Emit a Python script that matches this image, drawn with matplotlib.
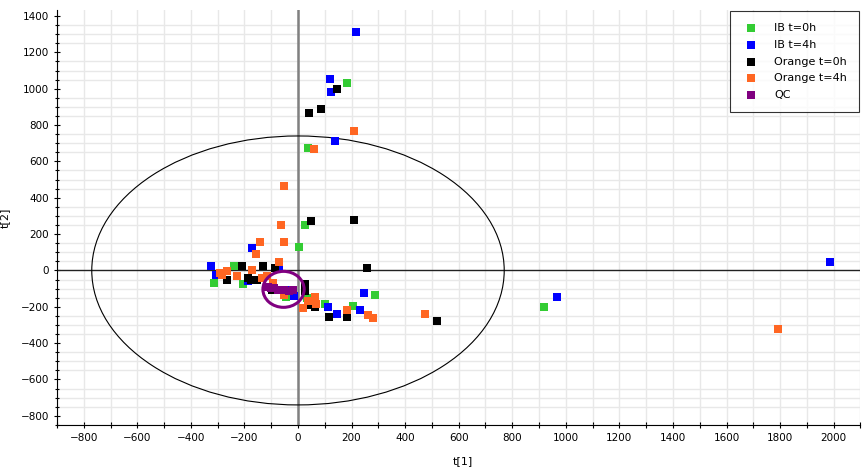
import numpy as np
import matplotlib.pyplot as plt
from matplotlib.patches import Ellipse
from matplotlib.ticker import MultipleLocator

# score values t[1], t[2] per group
ib0_t1 = [183, 37, 26, 4, -314, -239, -206, -45, 101, 206, 288, 920, 34]
ib0_t2 = [1029, 673, 252, 131, -71, 22, -77, -148, -186, -197, -137, -203, -150]

ib4_t1 = [217, 120, 123, 139, -325, -172, -307, -187, -71, -15, -34, 112, 146, 232, 247, 1985, 968]
ib4_t2 = [1314, 1051, 980, 711, 22, 126, -27, -60, 11, -142, -109, -202, -241, -219, -126, 44, -148]

or0_t1 = [146, 86, 41, 49, 209, 258, -209, -265, -176, -131, -86, -97, -153, 26, 26, 64, 116, 183, 49, 520, -187]
or0_t2 = [996, 887, 865, 274, 279, 16, 22, -55, -50, 22, 11, -109, -55, -77, -115, -202, -257, -257, -192, -279, -44]

or4_t1 = [209, 60, -52, -64, -142, -52, -157, -71, -292, -265, -228, -172, -116, -135, -93,
          19, 37, 64, 67, 183, 262, 280, 475, 1794, -52, -284]
or4_t2 = [766, 668, 465, 252, 159, 159, 93, 49, -16, -5, -33, 0, -33, -44, -71,
          -208, -170, -148, -186, -219, -246, -263, -241, -323, -137, -27]

qc_t1 = [-112, -100, -88, -76, -64, -52, -35, -19]
qc_t2 = [-90, -99, -96, -105, -110, -107, -112, -108]

groups = [
    ("IB t=0h", ib0_t1, ib0_t2, "#33cc33"),
    ("IB t=4h", ib4_t1, ib4_t2, "#0000ff"),
    ("Orange t=0h", or0_t1, or0_t2, "#000000"),
    ("Orange t=4h", or4_t1, or4_t2, "#ff6622"),
    ("QC", qc_t1, qc_t2, "#800080"),
]

fig = plt.figure(figsize=(8.63, 4.69), dpi=100)
ax = fig.add_axes([0.066, 0.094, 0.931, 0.885])

ax.set_xlim(-900, 2100)
ax.set_ylim(-837, 1434)

ax.xaxis.set_major_locator(MultipleLocator(200))
ax.xaxis.set_minor_locator(MultipleLocator(100))
ax.yaxis.set_major_locator(MultipleLocator(200))
ax.yaxis.set_minor_locator(MultipleLocator(100))
ax.set_yticks(np.arange(-850, 1450, 50), minor=True)
ax.grid(True, which="minor", axis="y", color="#e8e8e8", lw=1.0)
ax.grid(True, which="both", axis="x", color="#e8e8e8", lw=1.0)
ax.set_axisbelow(True)

ax.tick_params(which="both", direction="inout", length=4, width=0.8, labelsize=7.5, color="black")
ax.tick_params(axis="y", which="minor", length=3)
for side in ("top", "right"):
    ax.spines[side].set_visible(False)

ax.axvline(0, color="#808080", lw=1.8, zorder=1)
ax.axhline(0, color="#222222", lw=1.0, zorder=1)

# Hotelling T2 ellipse
ax.add_patch(Ellipse((0, 0), 2 * 770, 2 * 740, fill=False, ec="black", lw=0.8, zorder=2))

for name, xs, ys, col in groups:
    ax.scatter(xs, ys, s=38, marker="s", c=col, lw=0, label=name, zorder=3)

# QC spread ellipse
ax.add_patch(Ellipse((-54, -104), 2 * 77, 2 * 99, fill=False, ec="#800080", lw=2.2, zorder=4))

ax.set_xlabel("t[1]", fontsize=8)
ax.set_ylabel("t[2]", fontsize=8, labelpad=8)
ax.xaxis.set_label_coords(0.505, -0.075)

leg = ax.legend(loc="upper right", bbox_to_anchor=(1.0, 1.0), fontsize=8, frameon=True,
                fancybox=False, edgecolor="black", markerscale=0.85, handletextpad=1.3,
                borderpad=1.1, labelspacing=0.6, borderaxespad=0.1, handlelength=1.6)
leg.get_frame().set_linewidth(0.8)

fig.savefig("out.png", dpi=100)
